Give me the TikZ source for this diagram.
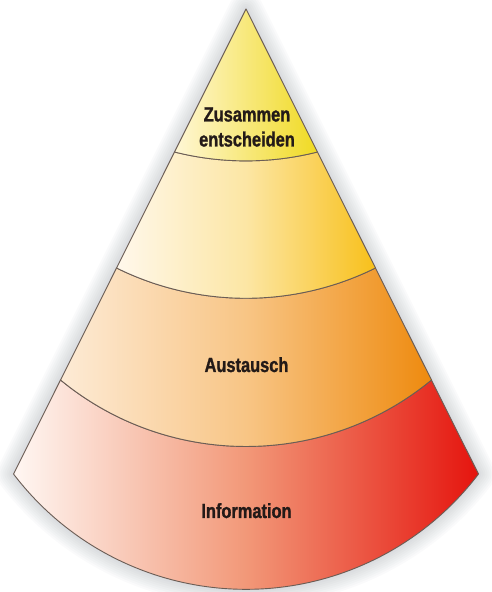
\documentclass[tikz,border=0pt]{standalone}
\usepackage{fontspec}
\newfontfamily\labelfont{Liberation Sans}[FakeStretch=0.8,BoldFeatures={FakeBold=1.2}]
\usetikzlibrary{calc}
\definecolor{edgecol}{HTML}{6B5D55}
\definecolor{txtcol}{HTML}{231A18}
\definecolor{shcol}{HTML}{8A949E}
\definecolor{cAl}{HTML}{FFF7D6}
\definecolor{cAr}{HTML}{F0DA22}
\definecolor{cBl}{HTML}{FFF8EC}
\definecolor{cBm}{HTML}{FCE6A4}
\definecolor{cBr}{HTML}{F8C01A}
\definecolor{cCl}{HTML}{FDEBD6}
\definecolor{cCm}{HTML}{F8C585}
\definecolor{cCr}{HTML}{EE8A0E}
\definecolor{cDl}{HTML}{FFF7F3}
\definecolor{cDm}{HTML}{F29878}
\definecolor{cDr}{HTML}{E5140E}
\begin{document}
\begin{tikzpicture}[x=1pt,y=1pt,
  outline/.style={draw=edgecol, line width=0.9pt, line join=round},
  lbl/.style={font=\labelfont\bfseries\fontsize{20.5}{25}\selectfont, text=txtcol, align=center, inner sep=0pt}]
\useasboundingbox (0,0) rectangle (491,592);
\fill[white] (0,0) rectangle (491,592);
\def\rad{292}
\coordinate (A) at (246,583);
\coordinate (L) at (13.5,118);
\coordinate (R) at (478.5,118);
\pgfmathsetmacro\ta{(583-440)/465}
\pgfmathsetmacro\tb{(583-324)/465}
\pgfmathsetmacro\tc{(583-212)/465}
\pgfmathsetmacro\tha{asin(232.5*\ta/\rad)}
\pgfmathsetmacro\thb{asin(232.5*\tb/\rad)}
\pgfmathsetmacro\thc{asin(232.5*\tc/\rad)}
\pgfmathsetmacro\thd{asin(232.5/\rad)}
\coordinate (aL) at ($(A)!\ta!(L)$);
\coordinate (aR) at ($(A)!\ta!(R)$);
\coordinate (bL) at ($(A)!\tb!(L)$);
\coordinate (bR) at ($(A)!\tb!(R)$);
\coordinate (cL) at ($(A)!\tc!(L)$);
\coordinate (cR) at ($(A)!\tc!(R)$);
% shadow
\begin{scope}[xshift=5, yshift=-7]
\foreach \w in {34,30,...,2}
  \draw[shcol, line width=\w pt, opacity=0.04, line join=round]
    (A) -- (L) arc[start angle=270-\thd, end angle=270+\thd, radius=\rad] -- cycle;
\end{scope}
% layers
\path[outline, left color=cDl, right color=cDr, middle color=cDm]
  (cL) arc[start angle=270-\thc, end angle=270+\thc, radius=\rad] -- (R)
  arc[start angle=270+\thd, end angle=270-\thd, radius=\rad] -- cycle;
\path[outline, left color=cCl, right color=cCr, middle color=cCm]
  (bL) arc[start angle=270-\thb, end angle=270+\thb, radius=\rad] -- (cR)
  arc[start angle=270+\thc, end angle=270-\thc, radius=\rad] -- cycle;
\path[outline, left color=cBl, right color=cBr, middle color=cBm]
  (aL) arc[start angle=270-\tha, end angle=270+\tha, radius=\rad] -- (bR)
  arc[start angle=270+\thb, end angle=270-\thb, radius=\rad] -- cycle;
\path[outline, left color=cAl, right color=cAr]
  (A) -- (aL) arc[start angle=270-\tha, end angle=270+\tha, radius=\rad] -- cycle;
% labels
\node[lbl] (top) at (247,465) {Zusammen\\entscheiden};
\node[lbl, anchor=base] (mid) at (246.5,220) {Austausch};
\node[lbl, anchor=base] (bot) at (246.5,74) {Information};
\end{tikzpicture}
\end{document}
